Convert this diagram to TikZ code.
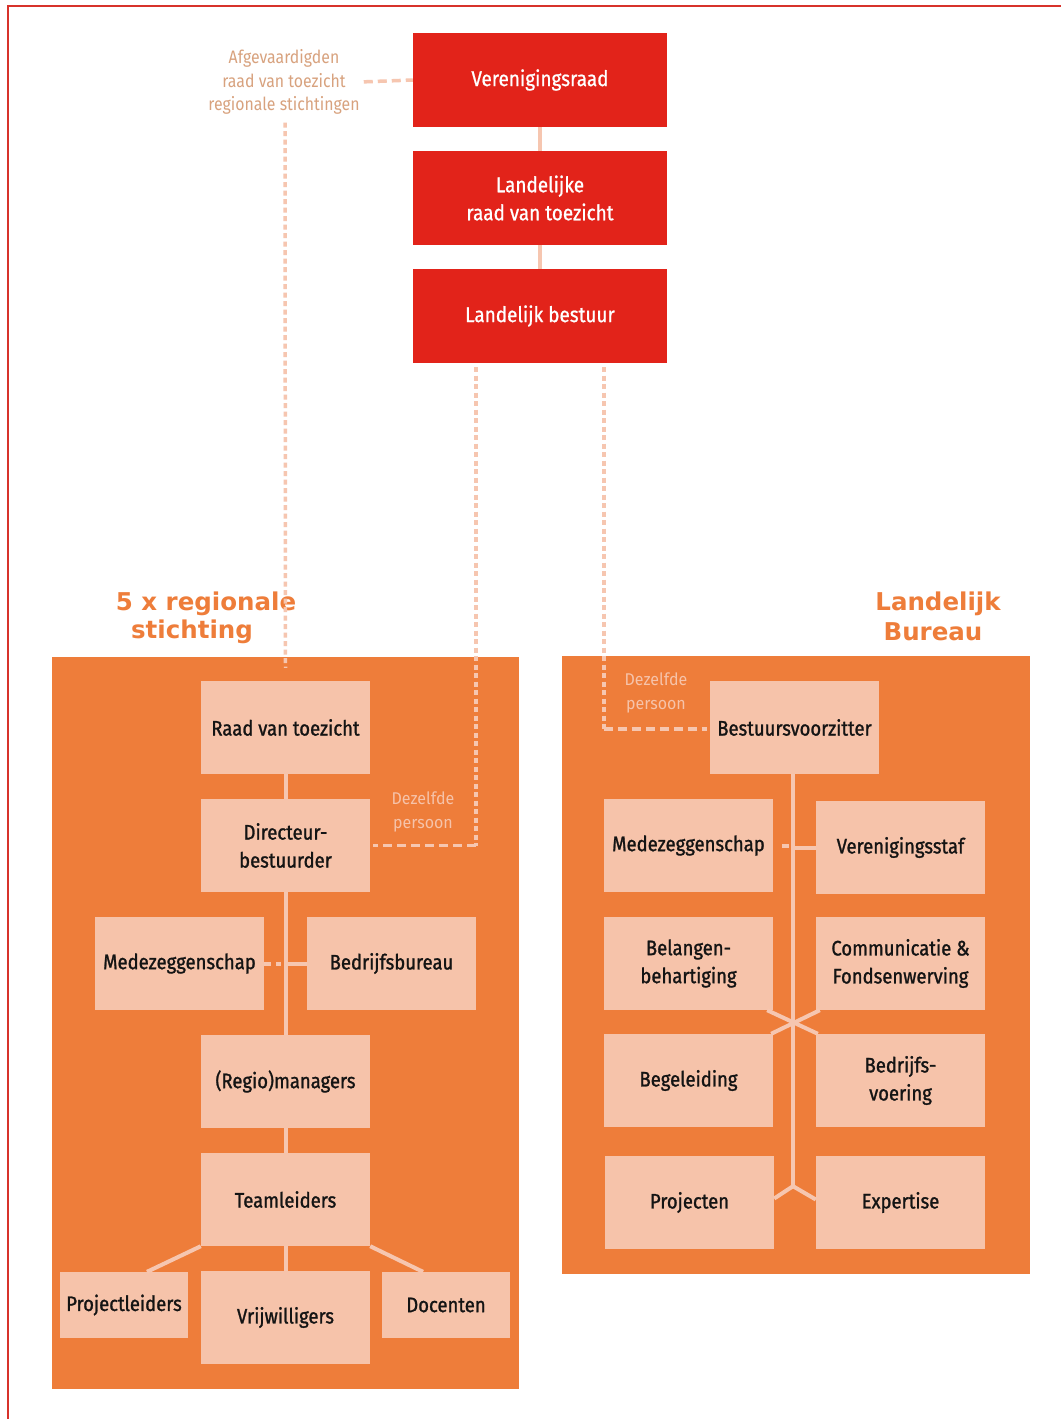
\documentclass[tikz,border=0pt]{standalone}
\usepackage{fontspec}
\usetikzlibrary{calc}
\newfontfamily\boxfont[FakeStretch=0.88,FakeBold=1.2]{Fira Sans}
\newfontfamily\whitefont[FakeStretch=0.88,FakeBold=0.8]{Fira Sans}
\newfontfamily\lightfont[FakeStretch=0.88]{Fira Sans}
\newfontfamily\dzfont[FakeStretch=0.94]{Fira Sans}
\newfontfamily\headfont{DejaVu Sans}
\definecolor{topred}{HTML}{E2231A}
\definecolor{panelor}{HTML}{EE7D3A}
\definecolor{boxpink}{HTML}{F6C3AA}
\definecolor{linepink}{HTML}{F6C6B0}
\definecolor{tantext}{HTML}{D8A27E}
\definecolor{boxtext}{HTML}{141414}
\definecolor{borderred}{HTML}{D7322B}
\tikzset{
  pbox/.style={fill=boxpink, minimum width=169pt, minimum height=93pt, inner sep=0pt, align=center, text=boxtext, font=\boxfont\fontsize{21pt}{28pt}\selectfont},
  sbox/.style={pbox, minimum width=128pt, minimum height=66pt},
  rbox/.style={fill=topred, minimum width=254pt, minimum height=94pt, inner sep=0pt, align=center, text=white, font=\whitefont\fontsize{21.5pt}{28pt}\selectfont},
  conn/.style={draw=linepink, line width=4pt},
  dotv/.style={draw=linepink, line width=3.5pt, dash pattern=on 5pt off 3.5pt},
  doth/.style={draw=linepink, line width=3.5pt, dash pattern=on 9pt off 5pt},
  note/.style={align=center, inner sep=0pt, font=\lightfont\fontsize{18pt}{23.5pt}\selectfont},
  dznote/.style={align=center, inner sep=0pt, text=boxpink, font=\dzfont\fontsize{17pt}{24pt}\selectfont},
  head/.style={inner sep=0pt, text=panelor, font=\headfont\bfseries\fontsize{24.5pt}{28pt}\selectfont},
}
\begin{document}
\begin{tikzpicture}[x=1pt,y=-1pt]
\useasboundingbox (0,0) rectangle (1061,1419);
\fill[white] (0,0) rectangle (1061,1419);
% border
\draw[borderred, line width=2pt] (8,1419) -- (8,6) -- (1061,6);
% panels
\fill[panelor] (52,657) rectangle (519,1389);
\fill[panelor] (562,656) rectangle (1030,1274);
% headings
\node[head] (h1a) at (206,604) {5 x regionale};
\node[head] (h1b) at (192,632) {stichting};
\node[head] (h2a) at (938,604) {Landelijk};
\node[head] (h2b) at (933,632) {Bureau};
% top red boxes
\node[rbox] (ver) at (540,80) {Verenigingsraad};
\node[rbox] (lrt) at (540,198) {Landelijke\\raad van toezicht};
\node[rbox] (lb) at (540,316) {Landelijk bestuur};
\draw[conn] (ver.south) -- (lrt.north);
\draw[conn] (lrt.south) -- (lb.north);
% afgevaardigden
\node[note, text=tantext] (afg) at (284,82) {Afgevaardigden\\raad van toezicht\\regionale stichtingen};
\draw[doth, shorten <=4pt] (afg.east) -- (ver.west);
% left boxes
\node[pbox] (rvt) at (285.5,727.5) {Raad van toezicht};
\node[pbox] (dir) at (285.5,845.5) {Directeur-\\bestuurder};
\node[pbox] (med1) at (179.5,963.5) {Medezeggenschap};
\node[pbox] (bb) at (391.5,963.5) {Bedrijfsbureau};
\node[pbox] (reg) at (285.5,1081.5) {(Regio)managers};
\node[pbox] (team) at (285.5,1199.5) {Teamleiders};
\node[sbox] (proj) at (124,1305) {Projectleiders};
\node[pbox] (vrij) at (285.5,1317.5) {Vrijwilligers};
\node[sbox] (doc) at (446,1305) {Docenten};
% left connectors
\draw[conn] (rvt.south) -- (dir.north);
\draw[conn] (dir.south) -- (reg.north);
\draw[conn] (reg.south) -- (team.north);
\draw[conn] (team.south) -- (vrij.north);
\draw[conn, dash pattern=on 7pt off 5pt on 5pt off 30pt] (med1.east) -- (med1.east -| dir.south);
\draw[conn] (bb.west) -- (bb.west -| dir.south);
\draw[conn] (team.south west) -- ($(proj.north)+(23,0)$);
\draw[conn] (team.south east) -- ($(doc.north)+(-23,0)$);
% right boxes
\node[pbox] (bv) at (794.5,727.5) {Bestuursvoorzitter};
\node[pbox] (med2) at (688.5,845.5) {Medezeggenschap};
\node[pbox] (vs) at (900.5,847.5) {Verenigingsstaf};
\node[pbox] (bel) at (688.5,963.5) {Belangen-\\behartiging};
\node[pbox] (comm) at (900.5,963.5) {Communicatie \&\\Fondsenwerving};
\node[pbox] (beg) at (688.5,1080.5) {Begeleiding};
\node[pbox] (bvo) at (900.5,1080.5) {Bedrijfs-\\voering};
\node[pbox] (pro) at (689.5,1202.5) {Projecten};
\node[pbox] (exp) at (900.5,1202.5) {Expertise};
% right connectors
\coordinate (fork) at ($(bv.south)+(-1.5,412)$);
\draw[conn] ($(bv.south)+(-1.5,0)$) -- (fork);
\draw[conn] ([xshift=9pt]med2.east) -- ([xshift=16pt]med2.east);
\draw[conn] (vs.west) -- (vs.west -| fork);
\draw[conn] ([xshift=-6pt]bel.south east) -- ([xshift=2pt]bvo.north west);
\draw[conn] ([xshift=4pt]comm.south west) -- ([xshift=-2pt]beg.north east);
\draw[conn] (fork) -- ([yshift=4pt]pro.east);
\draw[conn] (fork) -- ([yshift=3pt]exp.west);
% dotted "same person" lines
\coordinate (lbL) at ($(lb.south west)+(63,4)$);
\coordinate (lbR) at ($(lb.south west)+(191,4)$);
\draw[dotv] (afg.south) ++(1,8) -- ($(rvt.north)+(0,-13)$);
\draw[dotv] (lbL) -- (lbL |- dir.east);
\draw[doth] (lbL |- dir.east) -- ([xshift=3pt]dir.east);
\draw[dotv] (lbR) -- ($(lbR |- bv.west)+(0,1.5)$);
\draw[doth] ($(lbR |- bv.west)+(0,1.5)$) -- ([xshift=-3pt,yshift=-1.5pt]bv.west);
% notes
\node[dznote] (dz1) at (423,812) {Dezelfde\\persoon};
\node[dznote] (dz2) at (656,693) {Dezelfde\\persoon};
\end{tikzpicture}
\end{document}
